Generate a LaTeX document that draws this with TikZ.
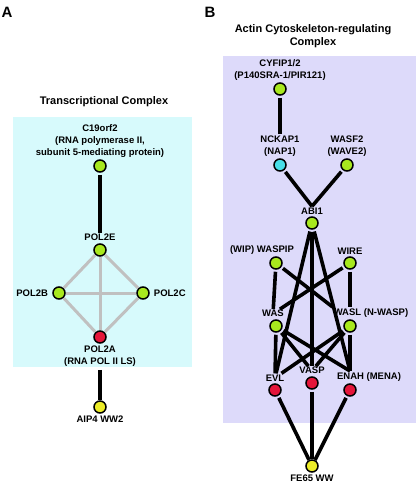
\documentclass[tikz,border=0pt]{standalone}
\usepackage{fontspec}
\setmainfont{Liberation Sans}
\usetikzlibrary{positioning}
\definecolor{boxcyan}{RGB}{215,250,252}
\definecolor{boxlav}{RGB}{221,218,250}
\definecolor{hitgreen}{RGB}{168,232,30}
\definecolor{hitred}{RGB}{228,22,58}
\definecolor{hityellow}{RGB}{236,236,40}
\definecolor{hitcyan}{RGB}{72,222,232}
\definecolor{linkgray}{RGB}{192,192,192}
\tikzstyle{prot} = [circle, draw=black, line width=1.5pt, minimum size=12pt, inner sep=0pt]
\tikzstyle{gnode} = [prot, fill=hitgreen]
\tikzstyle{rnode} = [prot, fill=hitred]
\tikzstyle{ynode} = [prot, fill=hityellow]
\tikzstyle{cnode} = [prot, fill=hitcyan]
\tikzstyle{lbl} = [font=\fontsize{9.5}{12}\selectfont\bfseries, align=center, inner sep=1pt]
\tikzstyle{title} = [font=\fontsize{11}{13}\selectfont\bfseries, align=center]
\tikzstyle{panel} = [font=\fontsize{15}{15}\selectfont\bfseries]
\tikzstyle{link} = [line width=3.6pt, black, shorten <=2pt]
\tikzstyle{glink} = [line width=3pt, draw=linkgray]

\begin{document}
\begin{tikzpicture}[x=1pt, y=-1pt]
	\useasboundingbox (0,0) rectangle (416,487);
	\fill [boxcyan] (13,117) rectangle (192,367);
	\fill [boxlav] (223,56) rectangle (416,423);

	\node (labA) [panel] at (7,12) {A};
	\node (titleA) [title] at (104,102) {Transcriptional Complex};
	\node (c19) [gnode] at (100,166) {};
	\node (c19L) [lbl, above=1pt of c19] {C19orf2\\(RNA polymerase II,\\subunit 5-mediating protein)};
	\node (pol2e) [gnode] at (100,250) {};
	\node (pol2eL) [lbl, above=1pt of pol2e] {POL2E};
		\draw [link] (c19) -- (pol2eL);
	\node (pol2b) [gnode] at (59,293) {};
	\node (pol2bL) [lbl, left=3pt of pol2b] {POL2B};
	\node (pol2c) [gnode] at (143,293) {};
	\node (pol2cL) [lbl, right=3pt of pol2c] {POL2C};
	\node (pol2a) [rnode] at (100,337) {};
	\node (pol2aL) [lbl, below=1pt of pol2a] {POL2A\\(RNA POL II LS)};
		\draw [glink] (pol2e) -- (pol2b);
		\draw [glink] (pol2e) -- (pol2c);
		\draw [glink] (pol2e) -- (pol2a);
		\draw [glink] (pol2b) -- (pol2c);
		\draw [glink] (pol2b) -- (pol2a);
		\draw [glink] (pol2c) -- (pol2a);
	\node (aip4) [ynode] at (100,407) {};
	\node (aip4L) [lbl, below=1pt of aip4] {AIP4 WW2};
		\draw [link] (pol2aL) -- (aip4);

	\node (labB) [panel] at (210,12) {B};
	\node (titleB) [title] at (313,36) {Actin Cytoskeleton-regulating\\Complex};
	\node (cyfip) [gnode] at (280,89) {};
	\node (cyfipL) [lbl, above=1pt of cyfip] {CYFIP1/2\\(P140SRA-1/PIR121)};
	\node (nck) [cnode] at (280,165) {};
	\node (nckL) [lbl, above=1pt of nck] {NCKAP1\\(NAP1)};
		\draw [link] (cyfip) -- (nckL);
	\node (wasf2) [gnode] at (347,165) {};
	\node (wasf2L) [lbl, above=1pt of wasf2] {WASF2\\(WAVE2)};
	\node (abi1) [gnode] at (312,223) {};
	\node (abi1L) [lbl, above=1pt of abi1] {ABI1};
		\draw [link] (nck) -- (abi1L.north);
		\draw [link] (wasf2) -- (abi1L.north);
	\node (waspip) [gnode] at (276,263) {};
	\node (waspipL) [lbl, above=1pt of waspip, xshift=-14pt] {(WIP) WASPIP};
	\node (wire) [gnode] at (350,263) {};
	\node (wireL) [lbl, above=1pt of wire] {WIRE};
	\node (was) [gnode] at (276,326) {};
	\node (wasL) [lbl, above=1pt of was, xshift=-3pt] {WAS};
	\node (wasl) [gnode] at (350,326) {};
	\node (waslL) [lbl, above=1pt of wasl, xshift=21pt] {WASL (N-WASP)};
		\draw [link] (waspip) -- (wasL);
		\draw [link] (wire) -- (waslL.north -| wasl);
		\draw [link] (waspip) -- (waslL.north west);
		\draw [link] (wire) -- (wasL);
	\node (evl) [rnode] at (275,390) {};
	\node (evlL) [lbl, above=1pt of evl] {EVL};
	\node (vasp) [rnode] at (312,383) {};
	\node (vaspL) [lbl, above=1pt of vasp] {VASP};
	\node (enah) [rnode] at (350,390) {};
	\node (enahL) [lbl, above=1pt of enah, xshift=19pt] {ENAH (MENA)};
		\draw [link] (abi1) -- (evlL);
		\draw [link] (abi1) -- (vaspL);
		\draw [link] (abi1) -- (enahL.north -| enah);
		\draw [link] (was) -- (evlL);
		\draw [link] (was) -- (vaspL);
		\draw [link] (was) -- (enahL.north -| enah);
		\draw [link] (wasl) -- (enahL.north -| enah);
		\draw [link] (wasl) -- (vaspL);
		\draw [link] (wasl) -- (evlL);
	\node (fe65) [ynode] at (312,466) {};
	\node (fe65L) [lbl, below=1pt of fe65] {FE65 WW};
		\draw [link] (evl) -- (fe65);
		\draw [link] (vasp) -- (fe65);
		\draw [link] (enah) -- (fe65);
\end{tikzpicture}
\end{document}
